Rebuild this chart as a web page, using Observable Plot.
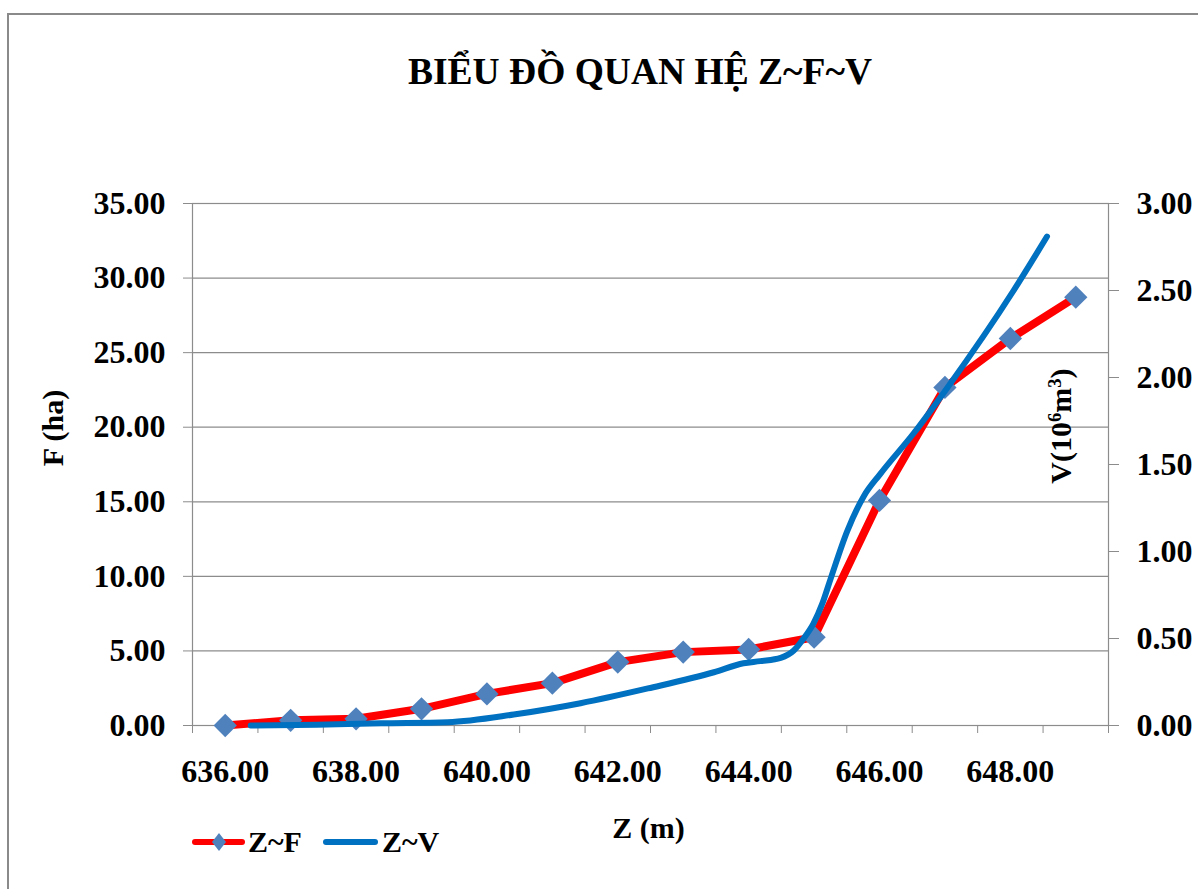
<!DOCTYPE html>
<html>
<head>
<meta charset="utf-8">
<script src="https://cdn.jsdelivr.net/npm/d3@7"></script>
<script src="https://cdn.jsdelivr.net/npm/@observablehq/plot@0.6"></script>
<style>
html, body { margin: 0; padding: 0; background: #fff; overflow: hidden; }
#wrap { position: relative; width: 1198px; height: 889px; font-family: "Liberation Serif", "DejaVu Serif", serif; font-weight: bold; color: #000; }
.t { position: absolute; line-height: 1; white-space: nowrap; }
#frame { position: absolute; left: 7px; top: 13px; width: 1400px; height: 1100px; border: 2px solid #8a8a8a; pointer-events: none; }
#chart { position: absolute; left: 0; top: 140px; }
sup { font-size: 0.62em; line-height: 0; vertical-align: 0.55em; }
</style>
</head>
<body>
<div id="wrap">
  <div class="t" style="left:640px; top:52.6px; font-size:37.5px; transform:translateX(-50%);">BIỂU ĐỒ QUAN HỆ Z~F~V</div>
  <div id="chart"></div>
  <div class="t" style="left:53px; top:428px; font-size:30px; transform:translate(-50%,-50%) rotate(-90deg);">F (ha)</div>
  <div class="t" style="left:1061px; top:426px; font-size:30px; transform:translate(-50%,-50%) rotate(-90deg);">V(10<sup>6</sup>m<sup>3</sup>)</div>
  <div class="t" style="left:648.5px; top:812.9px; font-size:30px; transform:translateX(-50%);">Z (m)</div>
  <div id="legend">
    <div style="position:absolute; left:192px; top:839px; width:53px; height:6px; background:#FF0000; border-radius:3px;"></div>
    <svg style="position:absolute; left:212px; top:833px;" width="14" height="18"><polygon points="7,0 14,9 7,18 0,9" fill="#4F81BD"/></svg>
    <div class="t" style="left:248px; top:826.9px; font-size:30px;">Z~F</div>
    <div style="position:absolute; left:323px; top:839px; width:55px; height:6px; background:#0070C0; border-radius:3px;"></div>
    <div class="t" style="left:382px; top:826.9px; font-size:30px;">Z~V</div>
  </div>
  <div id="frame"></div>
</div>
<script>
// ---- data ----
const zF = [636, 637, 638, 639, 640, 641, 642, 643, 644, 645, 646, 647, 648, 649];
const fArea = [0.00, 0.35, 0.45, 1.12, 2.12, 2.84, 4.25, 4.92, 5.10, 5.92, 15.09, 22.67, 25.95, 28.72];

const zV = [636.39, 637.40, 638.38, 639.40, 640.41, 641.43, 642.46, 643.47, 643.92, 644.18, 644.49, 644.69, 644.84, 644.99, 645.13, 645.25, 645.51, 645.76, 646.01, 646.52, 647.04, 648.05, 648.56];
const vVol = [0.000, 0.005, 0.013, 0.019, 0.063, 0.128, 0.213, 0.306, 0.358, 0.370, 0.389, 0.431, 0.500, 0.586, 0.705, 0.840, 1.120, 1.318, 1.445, 1.678, 1.943, 2.500, 2.810];

const fTicks = [0, 5, 10, 15, 20, 25, 30, 35];
const vTicks = [0, 0.5, 1, 1.5, 2, 2.5, 3];
const zTickMarks = [635.5, 636.5, 637.5, 638.5, 639.5, 640.5, 641.5, 642.5, 643.5, 644.5, 645.5, 646.5, 647.5, 648.5, 649.5];
const zLabels = [636, 638, 640, 642, 644, 646, 648];

const fMax = 35, vMax = 3;
const k = fMax / vMax; // secondary axis mapping

const fData = zF.map((z, i) => ({z, f: fArea[i]}));
const vData = zV.map((z, i) => ({z, v: vVol[i]}));

const gray = "#8c8c8c";
const font = "'Liberation Serif', 'DejaVu Serif', serif";

const chart = Plot.plot({
  width: 1198,
  height: 730,
  marginTop: 63,
  marginBottom: 145,
  marginLeft: 192,
  marginRight: 90,
  x: {domain: [zTickMarks[0], zTickMarks[zTickMarks.length - 1]]},
  y: {domain: [0, fMax]},
  style: {fontFamily: font, fontWeight: "bold", fontSize: "32px", background: "transparent", color: "#000", overflow: "visible"},
  marks: [
    Plot.gridY(fTicks, {stroke: gray, strokeOpacity: 1, strokeWidth: 1.2}),
    Plot.frame({stroke: gray, strokeWidth: 1.2}),
    Plot.axisY(fTicks, {anchor: "left", tickSize: 9, tickPadding: 18, stroke: gray, fill: "#000", fontSize: 32, fontWeight: "bold", tickFormat: d => d.toFixed(2), label: null}),
    Plot.axisY(vTicks.map(v => v * k), {anchor: "right", tickSize: 10, tickPadding: 18, stroke: gray, fill: "#000", fontSize: 32, fontWeight: "bold", tickFormat: d => (d / k).toFixed(2), label: null}),
    Plot.axisX(zTickMarks, {anchor: "bottom", tickSize: 8, stroke: gray, tickFormat: () => "", label: null}),
    Plot.axisX(zLabels, {anchor: "bottom", tickSize: 0, tickPadding: 34, fill: "#000", fontSize: 32, fontWeight: "bold", tickFormat: d => d.toFixed(2), label: null}),
    Plot.line(fData, {x: "z", y: "f", stroke: "#FF0000", strokeWidth: 8, curve: "linear", strokeLinecap: "round", strokeLinejoin: "round"}),
    Plot.dot(fData, {x: "z", y: "f", symbol: "diamond2", r: 10.5, fill: "#4F81BD", stroke: "none"}),
    Plot.line(vData, {x: "z", y: d => d.v * k, stroke: "#0070C0", strokeWidth: 6, curve: "monotone-x", strokeLinecap: "round", strokeLinejoin: "round"})
  ]
});
document.getElementById("chart").appendChild(chart);
</script>
</body>
</html>
